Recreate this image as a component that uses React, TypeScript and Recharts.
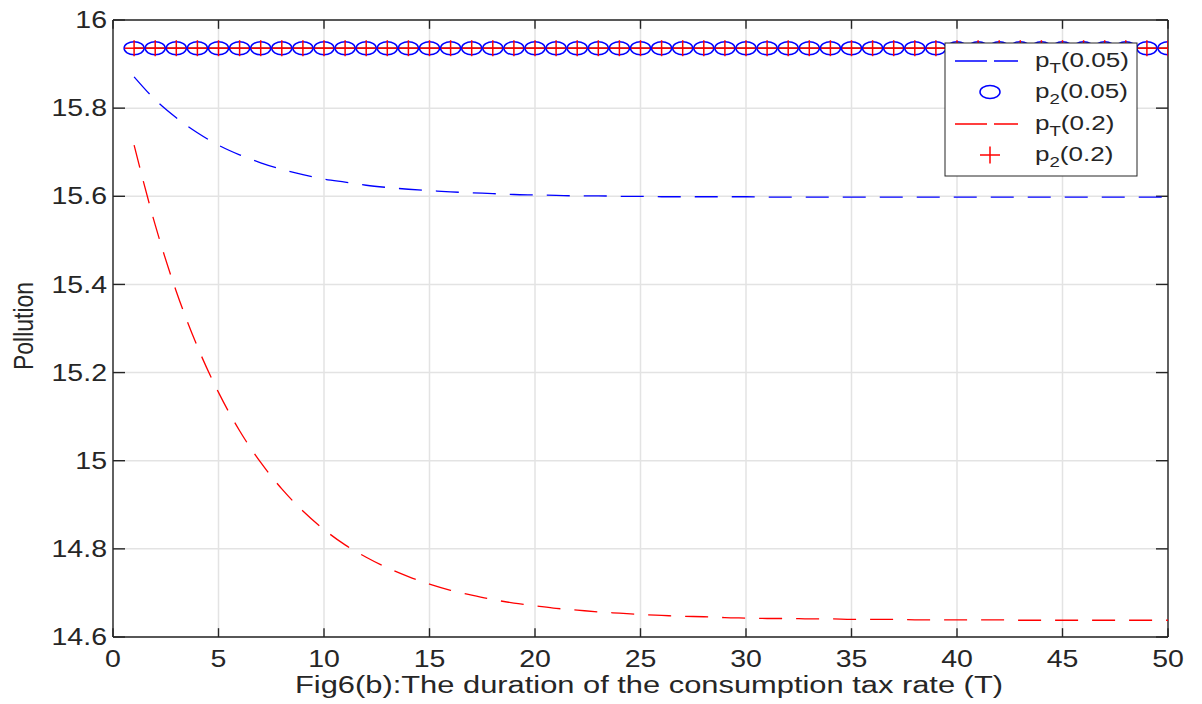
import React from 'react';
import { LineChart, Line, XAxis, YAxis, CartesianGrid, ReferenceLine } from 'recharts';

const T = [
  1, 2, 3, 4, 5, 6, 7, 8, 9, 10,
  11, 12, 13, 14, 15, 16, 17, 18, 19, 20,
  21, 22, 23, 24, 25, 26, 27, 28, 29, 30,
  31, 32, 33, 34, 35, 36, 37, 38, 39, 40,
  41, 42, 43, 44, 45, 46, 47, 48, 49, 50,
];

const pT_005 = [
  15.871, 15.819, 15.778, 15.744, 15.716, 15.694, 15.676, 15.661, 15.649, 15.639,
  15.632, 15.625, 15.62, 15.616, 15.613, 15.61, 15.608, 15.606, 15.604, 15.603,
  15.602, 15.601, 15.601, 15.6, 15.6, 15.599, 15.599, 15.599, 15.599, 15.599,
  15.598, 15.598, 15.598, 15.598, 15.598, 15.598, 15.598, 15.598, 15.598, 15.598,
  15.598, 15.598, 15.598, 15.598, 15.598, 15.598, 15.598, 15.598, 15.598, 15.598,
];

const p2_005 = [
  15.936, 15.936, 15.936, 15.936, 15.936, 15.936, 15.936, 15.936, 15.936, 15.936,
  15.936, 15.936, 15.936, 15.936, 15.936, 15.936, 15.936, 15.936, 15.936, 15.936,
  15.936, 15.936, 15.936, 15.936, 15.936, 15.936, 15.936, 15.936, 15.936, 15.936,
  15.936, 15.936, 15.936, 15.936, 15.936, 15.936, 15.936, 15.936, 15.936, 15.936,
  15.936, 15.936, 15.936, 15.936, 15.936, 15.936, 15.936, 15.936, 15.936, 15.936,
];

const pT_02 = [
  15.716, 15.535, 15.384, 15.259, 15.155, 15.068, 14.996, 14.936, 14.886, 14.844,
  14.809, 14.781, 14.757, 14.737, 14.72, 14.706, 14.695, 14.685, 14.677, 14.671,
  14.665, 14.661, 14.657, 14.654, 14.651, 14.649, 14.647, 14.646, 14.644, 14.643,
  14.642, 14.642, 14.641, 14.641, 14.64, 14.64, 14.64, 14.639, 14.639, 14.639,
  14.639, 14.639, 14.638, 14.638, 14.638, 14.638, 14.638, 14.638, 14.638, 14.638,
];

const p2_02 = [
  15.936, 15.936, 15.936, 15.936, 15.936, 15.936, 15.936, 15.936, 15.936, 15.936,
  15.936, 15.936, 15.936, 15.936, 15.936, 15.936, 15.936, 15.936, 15.936, 15.936,
  15.936, 15.936, 15.936, 15.936, 15.936, 15.936, 15.936, 15.936, 15.936, 15.936,
  15.936, 15.936, 15.936, 15.936, 15.936, 15.936, 15.936, 15.936, 15.936, 15.936,
  15.936, 15.936, 15.936, 15.936, 15.936, 15.936, 15.936, 15.936, 15.936, 15.936,
];

const xTicks = [0, 5, 10, 15, 20, 25, 30, 35, 40, 45, 50];
const yTicks = [14.6, 14.8, 15, 15.2, 15.4, 15.6, 15.8, 16];
const xLabel = 'Fig6(b):The duration of the consumption tax rate (T)';
const yLabel = 'Pollution';
const legendLabels = [
  { base: 'p', sub: 'T', tail: '(0.05)' },
  { base: 'p', sub: '2', tail: '(0.05)' },
  { base: 'p', sub: 'T', tail: '(0.2)' },
  { base: 'p', sub: '2', tail: '(0.2)' },
];

const data = T.map((t, i) => ({
  t,
  pT005: pT_005[i],
  p2005: p2_005[i],
  pT02: pT_02[i],
  p202: p2_02[i],
}));

const X_MIN = xTicks[0];
const X_MAX = xTicks[xTicks.length - 1];
const Y_MIN = yTicks[0];
const Y_MAX = yTicks[yTicks.length - 1];
// inward tick lengths, in data units (about 12 px horizontally, 9 px vertically)
const Y_TICK_LEN = 0.57;
const X_TICK_LEN = 0.02;

const FONT = '"Liberation Sans", Arial, Helvetica, sans-serif';
const SX = 1.24;
const AXIS = '#262626';
const TXT = '#262626';
const BLUE = '#0000ff';
const RED = '#ff0000';

const fmt = (v: number) => String(Number(Number(v).toFixed(1)));

const XTick = (props: any) => {
  const { x, y, payload } = props;
  return (
    <g transform={`translate(${x},${y + 30}) scale(${SX},1)`}>
      <text x={0} y={0} textAnchor="middle" fontFamily={FONT} fontSize={23} fill={TXT}>
        {fmt(payload.value)}
      </text>
    </g>
  );
};

const YTick = (props: any) => {
  const { x, y, payload } = props;
  return (
    <g transform={`translate(${x - 6},${y + 8.2}) scale(${SX},1)`}>
      <text x={0} y={0} textAnchor="end" fontFamily={FONT} fontSize={23} fill={TXT}>
        {fmt(payload.value)}
      </text>
    </g>
  );
};

const CircleDot = (props: any) => {
  const { cx, cy, index } = props;
  if (cx == null || cy == null) return <g key={`c${index}`} />;
  return (
    <ellipse key={`c${index}`} cx={cx} cy={cy} rx={10} ry={6.5} fill="none" stroke={BLUE} strokeWidth={1.5} />
  );
};

const PlusDot = (props: any) => {
  const { cx, cy, index } = props;
  if (cx == null || cy == null) return <g key={`p${index}`} />;
  return (
    <g key={`p${index}`}>
      <line x1={cx - 9.5} y1={cy} x2={cx + 9.5} y2={cy} stroke={RED} strokeWidth={1.5} />
      <line x1={cx} y1={cy - 8} x2={cx} y2={cy + 8} stroke={RED} strokeWidth={1.5} />
    </g>
  );
};

const axisStroke = { stroke: AXIS, strokeWidth: 1.4 };

const LegendBox = () => {
  const rows = [19, 50, 82, 113];
  return (
    <svg
      width={194}
      height={135}
      style={{ position: 'absolute', left: 944, top: 42 }}
    >
      <rect x={1} y={1} width={192} height={133} fill="#ffffff" stroke={AXIS} strokeWidth={1} />
      <line x1={11} y1={rows[0]} x2={74} y2={rows[0]} stroke={BLUE} strokeWidth={1.3} strokeDasharray="32 7" />
      <ellipse cx={46} cy={rows[1]} rx={10} ry={6.5} fill="none" stroke={BLUE} strokeWidth={1.5} />
      <line x1={11} y1={rows[2]} x2={74} y2={rows[2]} stroke={RED} strokeWidth={1.3} strokeDasharray="32 7" />
      <line x1={36} y1={rows[3]} x2={56} y2={rows[3]} stroke={RED} strokeWidth={1.5} />
      <line x1={46} y1={rows[3] - 8.5} x2={46} y2={rows[3] + 8.5} stroke={RED} strokeWidth={1.5} />
      {legendLabels.map((l, i) => (
        <g key={i} transform={`translate(91,${rows[i] + 5.5}) scale(${SX},1)`}>
          <text x={0} y={0} fontFamily={FONT} fontSize={21} fill={TXT}>
            {l.base}
            <tspan fontSize={15} dy={6}>{l.sub}</tspan>
            <tspan dy={-6}>{l.tail}</tspan>
          </text>
        </g>
      ))}
    </svg>
  );
};

export default function App() {
  return (
    <div style={{ position: 'absolute', left: 0, top: 0, width: 1202, height: 704, background: '#ffffff' }}>
      <LineChart
        width={1202}
        height={704}
        data={data}
        margin={{ top: 20, right: 34, bottom: 0, left: 0 }}
      >
        <CartesianGrid stroke="#e3e3e3" strokeWidth={1.5} />
        <XAxis
          dataKey="t"
          type="number"
          domain={[X_MIN, X_MAX]}
          ticks={xTicks}
          allowDataOverflow
          height={67}
          tickLine={false}
          tickSize={0}
          tickMargin={0}
          axisLine={axisStroke}
          tick={XTick}
          interval={0}
        />
        <YAxis
          type="number"
          domain={[Y_MIN, Y_MAX]}
          ticks={yTicks}
          allowDataOverflow
          width={113}
          tickLine={false}
          tickSize={0}
          tickMargin={0}
          axisLine={axisStroke}
          tick={YTick}
          interval={0}
        />
        <ReferenceLine y={Y_MAX} stroke={AXIS} strokeWidth={1.4} ifOverflow="visible" />
        <ReferenceLine x={X_MAX} stroke={AXIS} strokeWidth={1.4} ifOverflow="visible" />
        {yTicks.map((v) => (
          <ReferenceLine
            key={`yl${v}`}
            segment={[{ x: X_MIN, y: v }, { x: X_MIN + Y_TICK_LEN, y: v }]}
            stroke={AXIS}
            strokeWidth={1.4}
            ifOverflow="visible"
          />
        ))}
        {yTicks.map((v) => (
          <ReferenceLine
            key={`yr${v}`}
            segment={[{ x: X_MAX - Y_TICK_LEN, y: v }, { x: X_MAX, y: v }]}
            stroke={AXIS}
            strokeWidth={1.4}
            ifOverflow="visible"
          />
        ))}
        {xTicks.map((v) => (
          <ReferenceLine
            key={`xb${v}`}
            segment={[{ x: v, y: Y_MIN }, { x: v, y: Y_MIN + X_TICK_LEN }]}
            stroke={AXIS}
            strokeWidth={1.4}
            ifOverflow="visible"
          />
        ))}
        {xTicks.map((v) => (
          <ReferenceLine
            key={`xt${v}`}
            segment={[{ x: v, y: Y_MAX - X_TICK_LEN }, { x: v, y: Y_MAX }]}
            stroke={AXIS}
            strokeWidth={1.4}
            ifOverflow="visible"
          />
        ))}
        <Line dataKey="pT005" type="monotone" stroke={BLUE} strokeWidth={1.3} strokeDasharray="23 14" dot={false} activeDot={false} isAnimationActive={false} />
        <Line dataKey="pT02" type="monotone" stroke={RED} strokeWidth={1.3} strokeDasharray="23 14" dot={false} activeDot={false} isAnimationActive={false} />
        <Line dataKey="p2005" type="linear" stroke="none" dot={CircleDot} activeDot={false} isAnimationActive={false} />
        <Line dataKey="p202" type="linear" stroke="#2a0a14" strokeWidth={1.2} dot={PlusDot} activeDot={false} isAnimationActive={false} />
      </LineChart>
      <svg width={1202} height={704} style={{ position: 'absolute', left: 0, top: 0, pointerEvents: 'none' }}>
        <g transform={`translate(33,326) scale(${SX},1) rotate(-90)`}>
          <text x={0} y={0} textAnchor="middle" fontFamily={FONT} fontSize={23} fill={TXT}>
            {yLabel}
          </text>
        </g>
        <text x={295} y={693} fontFamily={FONT} fontSize={23} fill={TXT} textLength={708} lengthAdjust="spacingAndGlyphs">
          {xLabel}
        </text>
      </svg>
      <LegendBox />
    </div>
  );
}
